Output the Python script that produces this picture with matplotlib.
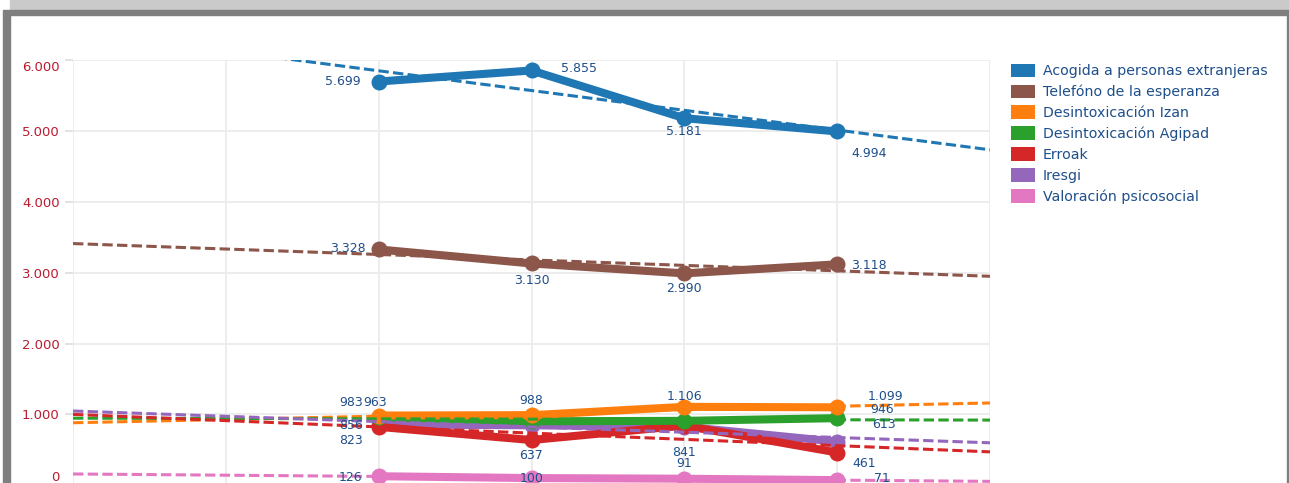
import numpy as np
import matplotlib
matplotlib.use('Agg')
import matplotlib.pyplot as plt
from matplotlib.patches import Patch, Rectangle
from matplotlib.ticker import FuncFormatter
from matplotlib.transforms import ScaledTranslation

# Datos
anios = [2019, 2020, 2021, 2022]
rango_anios = [2017, 2023]

acogida = [5699, 5855, 5181, 4994]
telefono = [3328, 3130, 2990, 3118]
izan = [983, 988, 1106, 1099]
agipad = [963, 902, 908, 946]
erroak = [823, 637, 841, 461]
iresgi = [856, 845, 826, 613]
valoracion = [126, 100, 91, 71]

legend_nombres = ['Acogida a personas extranjeras', 'Telefóno de la esperanza',
                  'Desintoxicación Izan', 'Desintoxicación Agipad', 'Erroak',
                  'Iresgi', 'Valoración psicosocial']
series = [acogida, telefono, izan, agipad, erroak, iresgi, valoracion]
colores = ['#1f77b4', '#8c564b', '#ff7f0e', '#2ca02c', '#d62728', '#9467bd', '#e377c2']
# orden de dibujo (cual queda encima)
capas = [3.0, 3.0, 3.4, 3.3, 3.2, 3.1, 3.0]

# posicion de las etiquetas (pixeles), None = etiqueta oculta
offsets = [
    [(-36, 0), (47, 2), (0, -13), (32, -22)],
    [(-31, 1), (0, -17), (0, -15), (32, -1)],
    [(-28, 13), (0, 15), (0, 10), (48, 11)],
    [(-4, 14), None, None, (45, 9)],
    [(-28, -14), (0, -15), (0, -27), (27, -11)],
    [(-28, -1), None, None, (47, 17)],
    [(-28, -1), (0, 0), (0, 15), (45, 2)],
]

W, H = 1289, 483
fig = plt.figure(figsize=(W / 100, H / 100), dpi=100)

# marco gris de la captura
fig.patches.append(Rectangle((10 / W, 1 - 10 / H), 1, 10 / H, transform=fig.transFigure,
                             color='#cacaca', zorder=0))
fig.patches.append(Rectangle((10 / W, 1 - 15 / H), 1, 5 / H, transform=fig.transFigure,
                             color='#7f7f7f', zorder=0))
fig.patches.append(Rectangle((3 / W, 0), 7 / W, 1 - 10 / H, transform=fig.transFigure,
                             color='#7f7f7f', zorder=0))
fig.patches.append(Rectangle((1287 / W, 0), 2 / W, 1 - 15 / H, transform=fig.transFigure,
                             color='#7f7f7f', zorder=0))

y_bottom_px = 506.4
ax = fig.add_axes([73 / W, (H - y_bottom_px) / H, (990 - 73) / W, (y_bottom_px - 60.2) / H])
ax.set_xlim(rango_anios)
ax.set_ylim(-300, 6000)

x_trend = np.linspace(rango_anios[0], rango_anios[1], 50)
for i, (vals, col) in enumerate(zip(series, colores)):
    ax.plot(anios, vals, color=col, lw=5.8, marker='o', markersize=10.5,
            solid_capstyle='round', zorder=capas[i])
    m, b = np.polyfit(anios, vals, 1)
    ax.plot(x_trend, m * x_trend + b, color=col, lw=2.2, dashes=(3.4, 1.4), zorder=4)
    for x, v, off in zip(anios, vals, offsets[i]):
        if off is None:
            continue
        ax.annotate(f'{v:,}'.replace(',', '.'), (x, v), xytext=off,
                    textcoords='offset pixels', ha='center', va='center',
                    fontsize=9, color='#1f4f8a', zorder=5)

ax.set_xticks(range(rango_anios[0], rango_anios[1] + 1))
ax.set_xticklabels([])
ax.tick_params(axis='x', length=0)
ax.set_yticks(range(0, 6001, 1000))
ax.yaxis.set_major_formatter(FuncFormatter(lambda v, p: f'{int(v):,}'.replace(',', '.')))
ax.tick_params(axis='y', colors='#dddddd', labelcolor='#b81c30', labelsize=9.5, length=6, width=1.2)
ax.grid(True, color='#ececec', lw=1.3)
for s in ax.spines.values():
    s.set_visible(False)

# etiquetas de los extremos desplazadas hacia dentro
ticks = ax.yaxis.get_major_ticks()
ticks[-1].label1.set_transform(ticks[-1].label1.get_transform()
                               + ScaledTranslation(0, -0.06, fig.dpi_scale_trans))
ticks[0].label1.set_transform(ticks[0].label1.get_transform()
                              + ScaledTranslation(0, 0.09, fig.dpi_scale_trans))

handles = [Patch(facecolor=c, edgecolor='none') for c in colores]
leg = fig.legend(handles, legend_nombres, loc='upper left',
                 bbox_to_anchor=(1005 / W, 1 - 58 / H), frameon=False,
                 fontsize=10.2, handlelength=1.72, handleheight=1.08,
                 handletextpad=0.55, labelspacing=0.45, borderaxespad=0)
for t in leg.get_texts():
    t.set_color('#1f4f8a')

fig.savefig('out.png', dpi=100)
